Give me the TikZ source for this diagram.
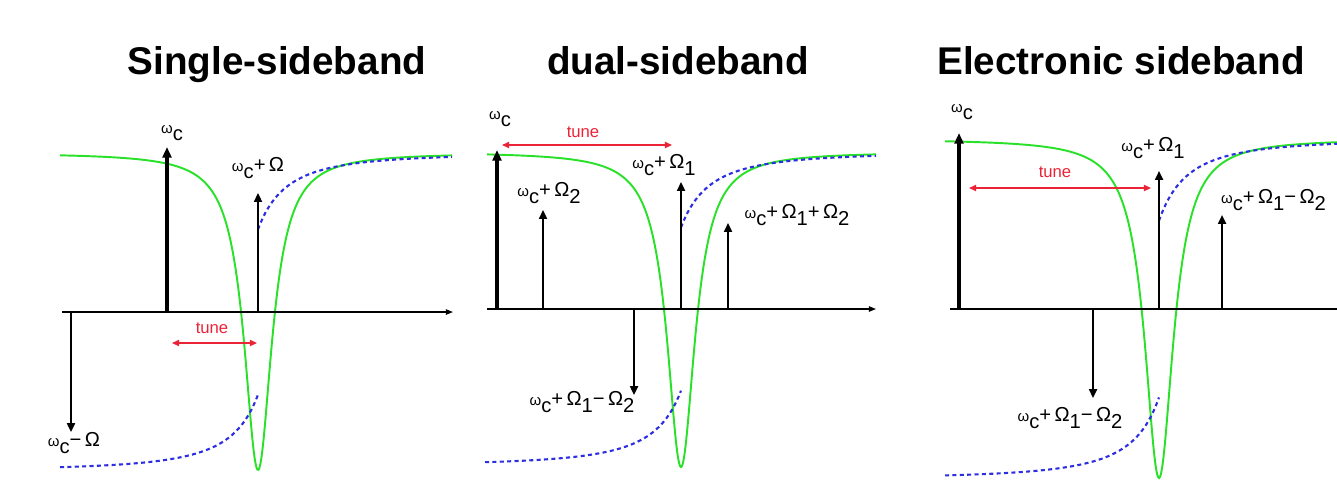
\documentclass[tikz,border=0pt]{standalone}
\usepackage{fontspec}
\setmainfont{Liberation Sans}
\usetikzlibrary{arrows.meta}
\definecolor{dipgreen}{RGB}{40,225,40}
\definecolor{phaseblue}{RGB}{45,45,225}
\definecolor{tunered}{RGB}{235,35,55}
\newcommand{\dn}[1]{\raisebox{-0.65ex}{#1}}
\newcommand{\wc}{{\fontsize{8.5}{10}\selectfont ω}\dn{c}}
\newcommand{\Om}{\,Ω}

\tikzset{
  carrier/.style={line width=1.8pt,-{Triangle[length=6pt,width=5pt]}},
  line/.style={line width=1.1pt,-{Triangle[length=5pt,width=4.5pt]}},
  axis/.style={line width=0.8pt,-{Triangle[length=4pt,width=3pt]}},
  lbl/.style={font=\fontsize{11.5}{13}\selectfont, inner sep=1pt},
  tunearrow/.style={tunered, line width=0.8pt, {Triangle[length=4pt,width=3.5pt]}-{Triangle[length=4pt,width=3.5pt]}},
  tunelbl/.style={tunered, font=\fontsize{9.5}{11}\selectfont, inner sep=1pt},
  title/.style={font=\fontsize{22}{26}\selectfont\bfseries, anchor=base},
  dip/.style={dipgreen, line width=1.1pt},
  phase/.style={phaseblue, line width=1.2pt, dash pattern=on 2.3pt off 1.9pt},
}

\begin{document}
\begin{tikzpicture}[x=0.02cm,y=-0.02cm]
  \useasboundingbox (0,0) rectangle (1337,485);

  % titles
  \node[title] (ssbtitle) at (277,74) {Single-sideband};
  \node[title] (dsbtitle) at (678,74) {dual-sideband};
  \node[title] (esbtitle) at (1121,74) {Electronic sideband};

  % single-sideband
  \draw[dip] plot[domain=60:452, samples=400] (\x, {153+317/(1+((\x-258)/17)^2)});
  \draw[phase] plot[domain=60:258, samples=80] (\x, {312+159*(1-0.48/(1+(258-\x)/57)^2)});
  \draw[phase] plot[domain=258:452, samples=80] (\x, {312-159*(1-0.48/(1+(\x-258)/57)^2)});
  \coordinate (ssb-o) at (62,312); \coordinate (ssb-e) at (453,312);
  \coordinate (ssb-c) at (167,312); \coordinate (ssb-ctip) at (167,147);
  \coordinate (ssb-u) at (258,312); \coordinate (ssb-utip) at (258,193);
  \coordinate (ssb-l) at (71,312); \coordinate (ssb-ltip) at (71,432);
  \coordinate (ssb-ta) at (172,343); \coordinate (ssb-tb) at (257,343);
  \draw[axis] (ssb-o) -- (ssb-e);
  \draw[carrier] (ssb-c) -- (ssb-ctip); \draw[line] (ssb-u) -- (ssb-utip); \draw[line] (ssb-l) -- (ssb-ltip);
  \draw[tunearrow] (ssb-ta) -- (ssb-tb);
  \node[tunelbl] (ssb-tune) at (212,328) {tune};
  \node[lbl] (ssb-wc) at (172,133) {\wc};
  \node[lbl] (ssb-wu) at (258,168) {\wc+\Om};
  \node[lbl] (ssb-wl) at (74,443) {\wc−\Om};

  % dual-sideband
  \draw[dip] plot[domain=487:876, samples=400] (\x, {152+315/(1+((\x-681)/17)^2)});
  \draw[phase] plot[domain=485:681, samples=80] (\x, {309+157*(1-0.48/(1+(681-\x)/57)^2)});
  \draw[phase] plot[domain=681:876, samples=80] (\x, {309-157*(1-0.48/(1+(\x-681)/57)^2)});
  \coordinate (dsb-o) at (487,309); \coordinate (dsb-e) at (876,309);
  \coordinate (dsb-c) at (497,309); \coordinate (dsb-ctip) at (497,150);
  \coordinate (dsb-a) at (543,309); \coordinate (dsb-atip) at (543,210);
  \coordinate (dsb-b) at (681,309); \coordinate (dsb-btip) at (681,182);
  \coordinate (dsb-s) at (728,309); \coordinate (dsb-stip) at (728,223);
  \coordinate (dsb-d) at (634,309); \coordinate (dsb-dtip) at (634,395);
  \coordinate (dsb-ta) at (502,145); \coordinate (dsb-tb) at (672,145);
  \draw[axis] (dsb-o) -- (dsb-e);
  \draw[carrier] (dsb-c) -- (dsb-ctip); \draw[line] (dsb-a) -- (dsb-atip); \draw[line] (dsb-b) -- (dsb-btip); \draw[line] (dsb-s) -- (dsb-stip); \draw[line] (dsb-d) -- (dsb-dtip);
  \draw[tunearrow] (dsb-ta) -- (dsb-tb);
  \node[tunelbl] (dsb-tune) at (583,132) {tune};
  \node[lbl] (dsb-wc) at (500,119) {\wc};
  \node[lbl] (dsb-wa) at (549,193) {\wc+\Om\dn{2}};
  \node[lbl] (dsb-wb) at (664,165) {\wc+\Om\dn{1}};
  \node[lbl] (dsb-ws) at (797,215) {\wc+\Om\dn{1}+\Om\dn{2}};
  \node[lbl] (dsb-wd) at (582,402) {\wc+\Om\dn{1}−\Om\dn{2}};

  % electronic sideband
  \draw[dip] plot[domain=945:1337, samples=400] (\x, {139+339/(1+((\x-1159)/17.5)^2)});
  \draw[phase] plot[domain=945:1159, samples=80] (\x, {309+170*(1-0.48/(1+(1159-\x)/57)^2)});
  \draw[phase] plot[domain=1159:1337, samples=80] (\x, {309-170*(1-0.48/(1+(\x-1159)/57)^2)});
  \coordinate (esb-o) at (950,309); \coordinate (esb-e) at (1345,309);
  \coordinate (esb-c) at (959,309); \coordinate (esb-ctip) at (959,133);
  \coordinate (esb-b) at (1159,309); \coordinate (esb-btip) at (1159,171);
  \coordinate (esb-s) at (1222,309); \coordinate (esb-stip) at (1222,215);
  \coordinate (esb-d) at (1093,309); \coordinate (esb-dtip) at (1093,398);
  \coordinate (esb-ta) at (969,188); \coordinate (esb-tb) at (1151,188);
  \draw[axis] (esb-o) -- (esb-e);
  \draw[carrier] (esb-c) -- (esb-ctip); \draw[line] (esb-b) -- (esb-btip); \draw[line] (esb-s) -- (esb-stip); \draw[line] (esb-d) -- (esb-dtip);
  \draw[tunearrow] (esb-ta) -- (esb-tb);
  \node[tunelbl] (esb-tune) at (1055,172) {tune};
  \node[lbl] (esb-wc) at (962,112) {\wc};
  \node[lbl] (esb-wb) at (1153,148) {\wc+\Om\dn{1}};
  \node[lbl, anchor=west] (esb-ws) at (1219,200) {\wc+\Om\dn{1}−\Om\dn{2}};
  \node[lbl] (esb-wd) at (1070,418) {\wc+\Om\dn{1}−\Om\dn{2}};
\end{tikzpicture}
\end{document}
